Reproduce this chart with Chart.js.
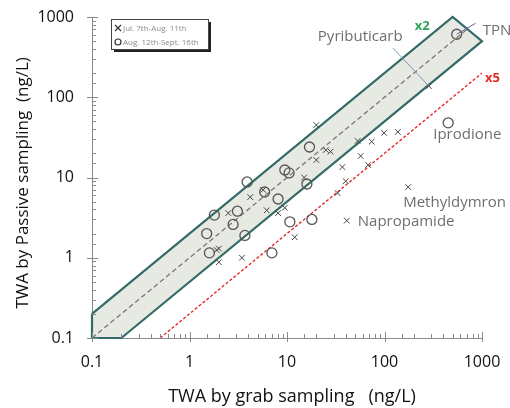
<!DOCTYPE html>
<html><head><meta charset="utf-8">
<script src="https://cdn.jsdelivr.net/npm/chart.js@4.4.1/dist/chart.umd.min.js"></script>
<style>html,body{margin:0;padding:0;background:#fff}#wrap{width:510px;height:408px}</style>
</head><body><div id="wrap"><canvas id="c" width="510" height="408"></canvas></div>
<script>
// ---- data ----
const seriesLabels = ['Jul. 7th-Aug. 11th', 'Aug. 12th-Sept. 16th'];
// Jul. 7th - Aug. 11th (crosses)
const julX = [285, 20, 53, 74, 99, 137, 57, 37, 68, 40, 33, 175, 41, 25, 28, 20, 15, 9.5, 8.1, 6.2, 12, 4.2, 5.7, 2.5, 3.45, 2.0, 2.0, 1.9];
const julY = [138, 45, 28.5, 28, 36, 37, 18.5, 13.5, 14.3, 9.0, 6.4, 7.6, 2.9, 22, 21, 16.5, 10, 4.2, 3.6, 3.9, 1.8, 5.7, 7.0, 3.6, 1.0, 0.88, 1.3, 1.25];
// Aug. 12th - Sept. 16th (circles)
const augX = [550, 450, 3.9, 17, 9.5, 10.5, 16, 8.1, 5.9, 1.8, 3.1, 2.8, 1.5, 3.7, 1.6, 7.0, 10.7, 18];
const augY = [610, 48, 8.8, 24, 12.4, 11.4, 8.3, 5.4, 6.6, 3.4, 3.8, 2.6, 2.0, 1.9, 1.15, 1.15, 2.8, 3.0];
// x2 band (1:2 and 2:1 limits), 1:1 line and 1:5 line
const bandX = [0.1, 500, 1000, 0.2, 0.1, 0.1];
const bandY = [0.2, 1000, 500, 0.1, 0.1, 0.2];
const oneX = [0.1, 707];
const oneY = [0.1, 707];
const fiveX = [0.5, 1000];
const fiveY = [0.1, 200];
const tickLabels = ['0.1', '1', '10', '100', '1000'];
const axisMin = 0.1, axisMax = 1000;
const xTitle = 'TWA by grab sampling   (ng/L)';
const yTitle = 'TWA by Passive sampling  (ng/L)';
const pointNames = [
  {text: 'Pyributicarb', series: 0, index: 0},
  {text: 'TPN', series: 1, index: 0},
  {text: 'Iprodione', series: 1, index: 1},
  {text: 'Methyldymron', series: 0, index: 11},
  {text: 'Napropamide', series: 0, index: 12}
];
const ratioLabels = ['x2', 'x5'];

// ---- styling (positions relative to marks) ----
const nameStyle = {
  'Pyributicarb': {dx: -111, dy: -49, lead: [-36, -38], leadColor: '#7d9bb3'},
  'TPN': {dx: 26, dy: -3, lead: [19, -11], leadColor: '#6b5b9e'},
  'Iprodione': {dx: -15, dy: 12},
  'Methyldymron': {dx: -5, dy: 16},
  'Napropamide': {dx: 11, dy: 1}
};

const pts = (xs, ys) => xs.map((x, i) => ({x: x, y: ys[i]}));

const overlay = {
  id: 'overlay',
  afterDatasetsDraw(chart) {
    const ctx = chart.ctx, xs = chart.scales.x, ys = chart.scales.y;
    ctx.save();
    ctx.font = '15px "Open Sans"';
    ctx.textBaseline = 'middle';
    pointNames.forEach(p => {
      const ds = p.series === 0 ? [julX, julY] : [augX, augY];
      const px = xs.getPixelForValue(ds[0][p.index]);
      const py = ys.getPixelForValue(ds[1][p.index]);
      const st = nameStyle[p.text];
      if (st.lead) {
        ctx.strokeStyle = st.leadColor; ctx.lineWidth = 1;
        ctx.beginPath(); ctx.moveTo(px + st.lead[0], py + st.lead[1]); ctx.lineTo(px, py); ctx.stroke();
      }
      ctx.fillStyle = '#6e6e6e';
      ctx.textAlign = 'left';
      ctx.fillText(p.text, px + st.dx, py + st.dy);
    });
    ctx.font = 'bold 13px "Open Sans"';
    ctx.fillStyle = '#2fa35a';
    ctx.fillText(ratioLabels[0], xs.getPixelForValue(bandX[1]) - 38, ys.getPixelForValue(bandY[1]) + 9);
    ctx.fillStyle = '#e42a2a';
    ctx.fillText(ratioLabels[1], xs.getPixelForValue(fiveX[1]) + 3, ys.getPixelForValue(fiveY[1]) + 5);
    ctx.restore();
  },
  afterDraw(chart) {
    const ctx = chart.ctx, xs = chart.scales.x, ys = chart.scales.y, a = chart.chartArea;
    ctx.save();
    ctx.strokeStyle = '#8a8a8a'; ctx.lineWidth = 1;
    const isMajor = v => Math.abs(Math.log10(v) - Math.round(Math.log10(v))) < 1e-6;
    ys.ticks.forEach(t => {
      const y = Math.round(ys.getPixelForValue(t.value)) + 0.5;
      ctx.beginPath();
      if (isMajor(t.value)) { ctx.moveTo(a.left - 5, y); ctx.lineTo(a.left + 6, y); }
      else { ctx.moveTo(a.left, y); ctx.lineTo(a.left + 4, y); }
      ctx.stroke();
    });
    xs.ticks.forEach(t => {
      const x = Math.round(xs.getPixelForValue(t.value)) + 0.5;
      ctx.beginPath();
      if (isMajor(t.value)) { ctx.moveTo(x, a.bottom + 4); ctx.lineTo(x, a.bottom - 6); }
      else { ctx.moveTo(x, a.bottom); ctx.lineTo(x, a.bottom - 4); }
      ctx.stroke();
    });
    // axis titles
    ctx.fillStyle = '#111';
    ctx.textAlign = 'center'; ctx.textBaseline = 'middle';
    ctx.font = '18px "Open Sans"';
    ctx.fillText(xTitle, 292, 397);
    ctx.save();
    ctx.font = '17px "Open Sans"';
    ctx.translate(23, 183);
    ctx.rotate(-Math.PI / 2);
    ctx.fillText(yTitle, 0, 0);
    ctx.restore();
    // legend box
    const bx = 111, by = 19, bw = 97, bh = 30;
    ctx.fillStyle = '#222';
    ctx.fillRect(bx + 3, by + 3, bw, bh);
    ctx.fillStyle = '#fff';
    ctx.fillRect(bx, by, bw, bh);
    ctx.strokeStyle = '#444'; ctx.lineWidth = 1;
    ctx.strokeRect(bx + 0.5, by + 0.5, bw, bh);
    ctx.font = '8px "Open Sans"';
    ctx.textAlign = 'left';
    ctx.fillStyle = '#8a8a8a';
    chart.data.datasets.slice(0, 2).forEach((ds, i) => {
      const ly = by + 9 + i * 14;
      const mx = bx + 7;
      ctx.strokeStyle = '#333'; ctx.lineWidth = 1.2;
      ctx.beginPath();
      if (i === 0) { ctx.moveTo(mx - 3, ly - 3); ctx.lineTo(mx + 3, ly + 3); ctx.moveTo(mx + 3, ly - 3); ctx.lineTo(mx - 3, ly + 3); }
      else { ctx.arc(mx, ly, 3, 0, Math.PI * 2); }
      ctx.stroke();
      ctx.fillText(ds.label, bx + 12, ly + 0.5);
    });
    ctx.restore();
  }
};

new Chart(document.getElementById('c'), {
  type: 'scatter',
  data: {
    datasets: [
      {label: seriesLabels[0], data: pts(julX, julY), pointStyle: 'crossRot', pointRadius: 4, borderColor: '#454545', borderWidth: 1, backgroundColor: 'transparent', order: 0},
      {label: seriesLabels[1], data: pts(augX, augY), pointStyle: 'circle', pointRadius: 5, borderColor: '#555', borderWidth: 1.3, backgroundColor: 'transparent', order: 1},
      {label: 'band', data: pts(bandX, bandY), showLine: true, pointRadius: 0, borderColor: '#346b68', borderWidth: 2.2, backgroundColor: '#e7e9e3', fill: 'shape', tension: 0, clip: false, order: 10},
      {label: '1:1', data: pts(oneX, oneY), showLine: true, pointRadius: 0, borderColor: '#777', borderWidth: 1.3, borderDash: [5, 3], fill: false, order: 5},
      {label: '1:5', data: pts(fiveX, fiveY), showLine: true, pointRadius: 0, borderColor: '#e42a2a', borderWidth: 1.4, borderDash: [3, 2], fill: false, order: 5}
    ]
  },
  options: {
    responsive: false,
    animation: false,
    layout: {padding: {left: 0, right: 28, top: 17, bottom: 0}},
    plugins: {legend: {display: false}, tooltip: {enabled: false}},
    scales: {
      x: {
        type: 'logarithmic', min: axisMin, max: axisMax,
        grid: {display: false, drawTicks: false},
        border: {display: true, color: '#8a8a8a', width: 1},
        ticks: {
          autoSkip: false, maxRotation: 0, padding: 15, color: '#111',
          font: {family: 'Open Sans', size: 16},
          callback: v => { const i = tickLabels.indexOf(String(Number(v.toPrecision(6)))); return i >= 0 ? tickLabels[i] : ''; }
        },
        afterFit: s => { s.height = 70; s.paddingLeft = 0; s.paddingRight = 0; }
      },
      y: {
        type: 'logarithmic', min: axisMin, max: axisMax,
        grid: {display: false, drawTicks: false},
        border: {display: true, color: '#8a8a8a', width: 1},
        ticks: {
          autoSkip: false, padding: 18, color: '#111',
          font: {family: 'Open Sans', size: 16},
          callback: v => { const i = tickLabels.indexOf(String(Number(v.toPrecision(6)))); return i >= 0 ? tickLabels[i] : ''; }
        },
        afterFit: s => { s.width = 92; s.paddingTop = 0; s.paddingBottom = 0; }
      }
    }
  },
  plugins: [overlay]
});
</script>
</body></html>
